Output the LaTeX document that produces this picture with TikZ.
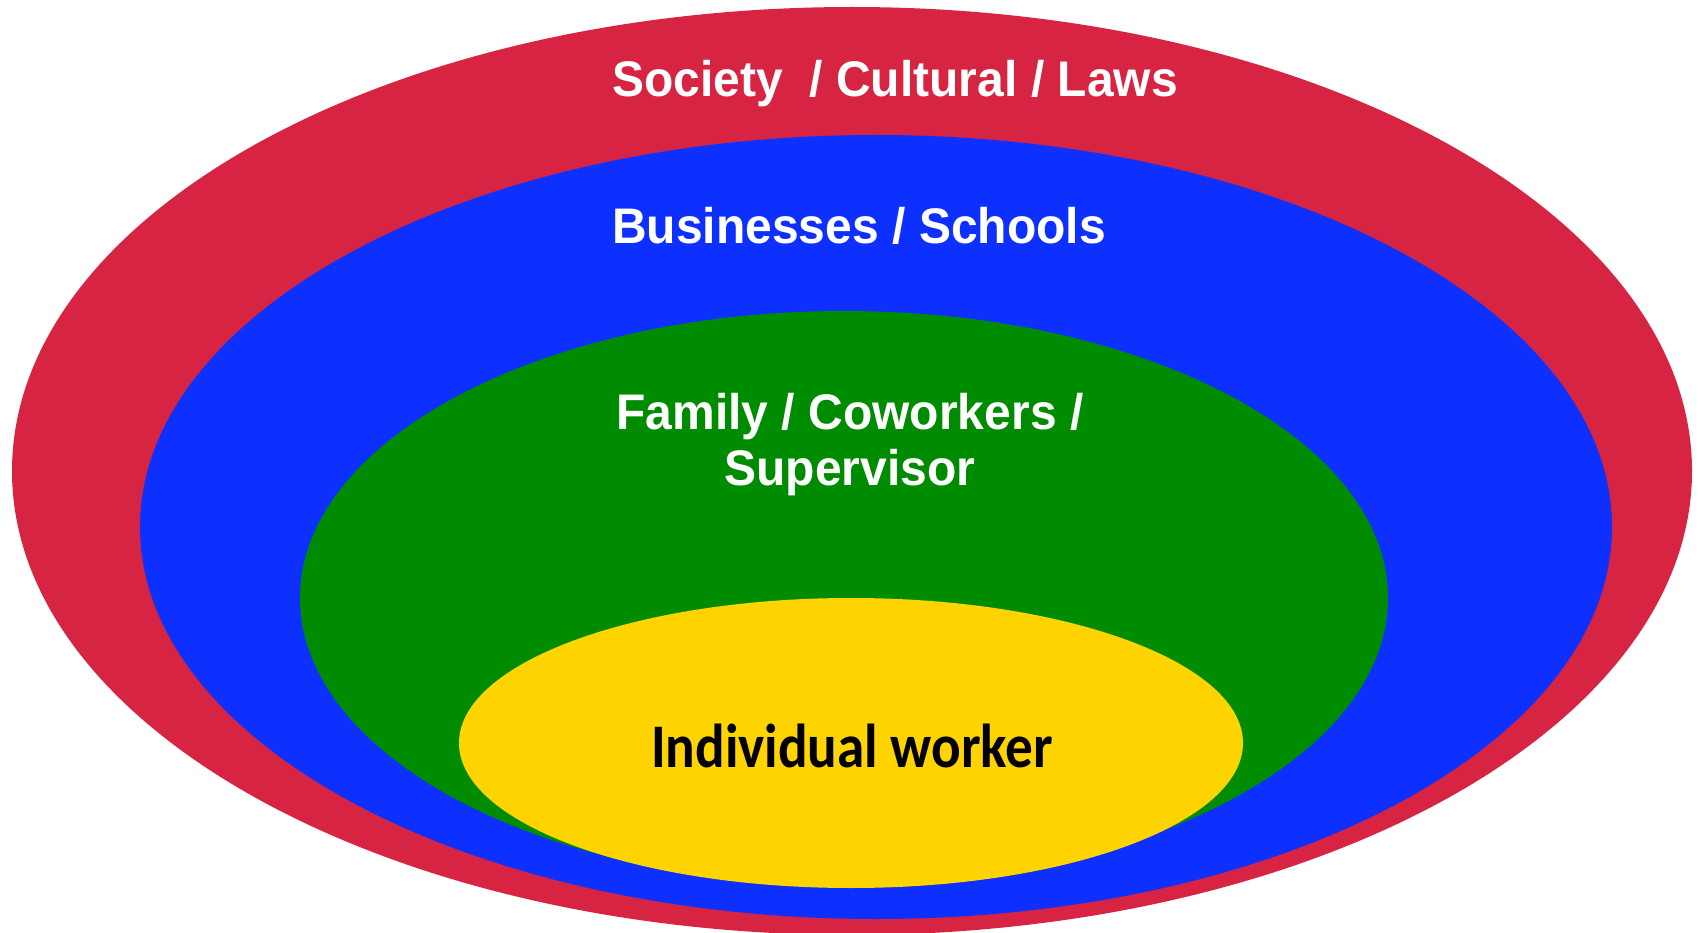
\documentclass[tikz,border=0pt]{standalone}
\usepackage{fontspec}
\setmainfont{Liberation Sans}[FakeStretch = 0.96]
\newfontfamily\calfont{Carlito}[FakeStretch = 0.89]
\usepackage{tikz}

\definecolor{SocietyRed}{HTML}{D62442}
\definecolor{BusinessBlue}{HTML}{0D30FF}
\definecolor{FamilyGreen}{HTML}{008C00}
\definecolor{WorkerYellow}{HTML}{FFD400}

\tikzset{
  ringlabel/.style = {anchor = base, text = white, font = \bfseries\fontsize{50}{56}\selectfont, align = center},
  corelabel/.style = {anchor = base, text = black, font = \calfont\bfseries\fontsize{62}{70}\selectfont}
}

\begin{document}
\begin{tikzpicture}[x = 1pt, y = -1pt]
              \useasboundingbox (0, 0) rectangle (1698, 933);
              \fill [fill = SocietyRed] (852, 471) ellipse (840 and 464);
              \fill [fill = BusinessBlue] (876, 527) ellipse (736 and 392);
              \fill [fill = FamilyGreen] (844, 598) ellipse (544 and 287);
              \fill [fill = WorkerYellow] (851, 743) ellipse (392 and 145);
              \node [ringlabel] (society) at (895, 97) {Society \ / Cultural / Laws};
              \node [ringlabel] (business) at (859, 244) {Businesses / Schools};
              \node [ringlabel, anchor = north] (family) at (850, 390) {Family / Coworkers /\\Supervisor};
              \node [corelabel] (worker) at (852, 767) {Individual worker};
            \end{tikzpicture}
\end{document}
